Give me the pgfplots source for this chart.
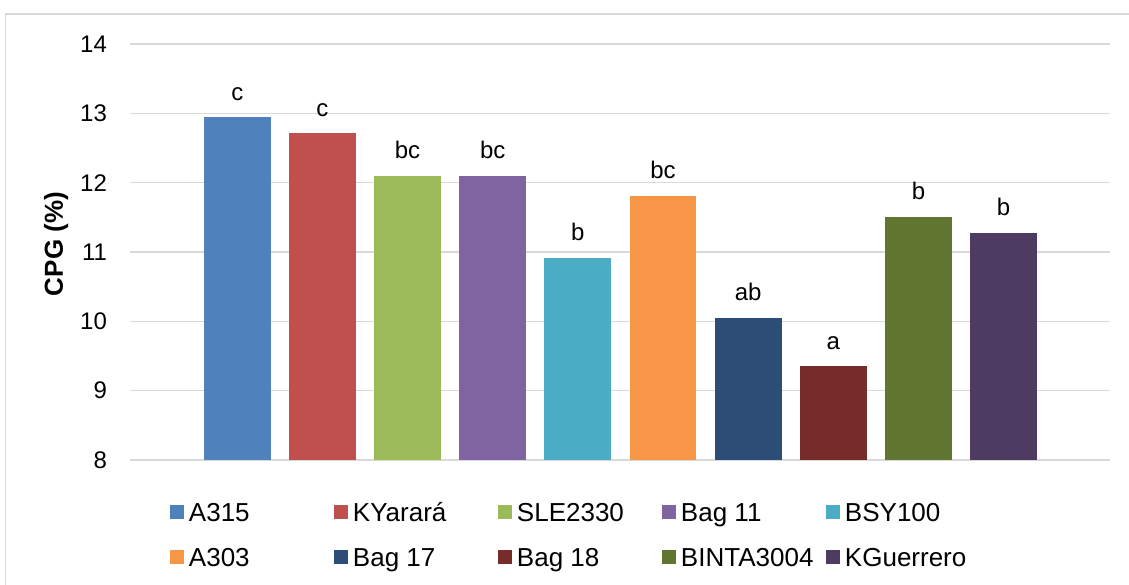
\documentclass[border=0pt]{standalone}
\usepackage{fontspec}
\setmainfont{Liberation Sans}
\usepackage{pgfplots}
\pgfplotsset{compat=1.18}

% Excel-style palette
\definecolor{cA}{HTML}{4F81BD}
\definecolor{cB}{HTML}{C0504D}
\definecolor{cC}{HTML}{9BBB59}
\definecolor{cD}{HTML}{8064A2}
\definecolor{cE}{HTML}{4BACC6}
\definecolor{cF}{HTML}{F79646}
\definecolor{cG}{HTML}{2C4D75}
\definecolor{cH}{HTML}{772C2A}
\definecolor{cI}{HTML}{5F7530}
\definecolor{cJ}{HTML}{4D3B62}
\definecolor{gridgray}{HTML}{D9D9D9}

\newcommand{\lentry}[1]{\makebox[72.5pt][l]{#1}}

\begin{document}
\begin{tikzpicture}
\useasboundingbox (0,0) rectangle (564.5pt,292pt);
% chart frame
\draw[gridgray, line width=0.75pt] (2.75pt,-2pt) -- (2.75pt,285pt) -- (570pt,285pt);
\begin{axis}[
  at={(65pt,62pt)}, anchor=south west,
  scale only axis,
  width=490pt, height=208pt,
  ybar, bar width=33.4pt, bar shift=0pt,
  xmin=-1.26, xmax=10.25,
  ymin=8, ymax=14, ytick={8,...,14},
  xtick=\empty,
  axis line style={draw=none},
  major tick length=0pt,
  ymajorgrids, grid style={gridgray, line width=0.75pt},
  /pgf/number format/assume math mode=true,
  yticklabel style={font=\fontsize{12}{14}\selectfont, xshift=-8pt},
  ylabel={\bfseries CPG (\%)},
  ylabel style={font=\fontsize{13}{15}\selectfont, at={(axis description cs:-0.0684,0.519)}, anchor=base, rotate=0},
  point meta=explicit symbolic,
  nodes near coords,
  nodes near coords style={font=\fontsize{12}{14}\selectfont, anchor=south, inner sep=0pt, text depth=0pt, yshift=8.5pt, text=black},
  legend image code/.code={\fill[#1] (0pt,-3.5pt) rectangle (7pt,3.5pt);},
  legend columns=5,
  legend style={
    at={(axis description cs:0.0408,-0.1026)}, anchor=north west,
    draw=none, fill=none, inner sep=0pt, outer sep=0pt,
    font=\fontsize{13}{15}\selectfont,
    row sep=13.2pt, column sep=0pt,
    cells={anchor=west},
    nodes={inner sep=0pt, text height=9.3pt, text depth=0pt},
    /tikz/every odd column/.append style={column sep=2.5pt},
  },
]
\addplot[fill=cA, draw=none] coordinates {(0,12.94) [c]};
\addlegendentry{\lentry{A315}}
\addplot[fill=cB, draw=none] coordinates {(1,12.71) [c]};
\addlegendentry{\lentry{KYarará}}
\addplot[fill=cC, draw=none] coordinates {(2,12.10) [bc]};
\addlegendentry{\lentry{SLE2330}}
\addplot[fill=cD, draw=none] coordinates {(3,12.10) [bc]};
\addlegendentry{\lentry{Bag 11}}
\addplot[fill=cE, draw=none] coordinates {(4,10.91) [b]};
\addlegendentry{\lentry{BSY100}}
\addplot[fill=cF, draw=none] coordinates {(5,11.81) [bc]};
\addlegendentry{\lentry{A303}}
\addplot[fill=cG, draw=none] coordinates {(6,10.05) [ab]};
\addlegendentry{\lentry{Bag 17}}
\addplot[fill=cH, draw=none] coordinates {(7,9.35) [a]};
\addlegendentry{\lentry{Bag 18}}
\addplot[fill=cI, draw=none] coordinates {(8,11.50) [b]};
\addlegendentry{\lentry{BINTA3004}}
\addplot[fill=cJ, draw=none] coordinates {(9,11.27) [b]};
\addlegendentry{\lentry{KGuerrero}}
\end{axis}
\end{tikzpicture}
\end{document}
